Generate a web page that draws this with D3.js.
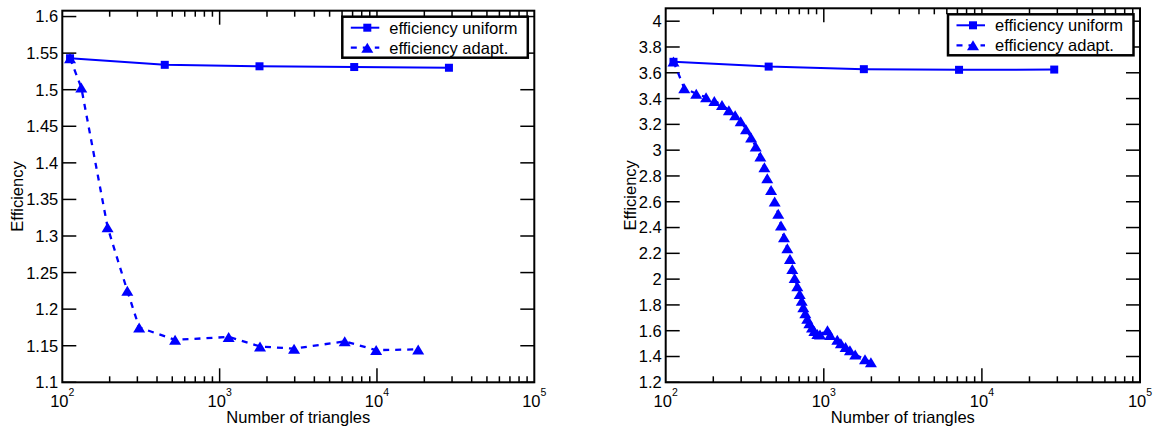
<!DOCTYPE html>
<html><head><meta charset="utf-8">
<script src="https://cdn.jsdelivr.net/npm/d3@7"></script>
<style>
body{margin:0;background:#fff}
svg{display:block}
text{font-family:"Liberation Sans",Arial,Helvetica,sans-serif;fill:#000}
</style>
</head><body>
<svg id="c" width="1156" height="427"></svg>
<script>
// ---------- data ----------
const nUniform = [112, 448, 1792, 7168, 28672];
const effUniformA = [1.543, 1.534, 1.532, 1.531, 1.530];
const nAdaptA = [112, 132, 194, 259, 308, 521, 1141, 1806, 2972, 6237, 9882, 18281];
const effAdaptA = [1.543, 1.503, 1.312, 1.225, 1.175, 1.158, 1.162, 1.149, 1.146, 1.156, 1.144, 1.145];

const effUniformB = [3.685, 3.648, 3.628, 3.623, 3.625];
const nAdaptB = [112,131,156,180,203,227,251,275,298,322,347,371,397,421,439,464,489,515,536,560,588,611,632,654,680,704,725,742,764,786,810,842,871,910,946,1055,1097,1217,1282,1373,1463,1580,1822,1986];
const effAdaptB = [3.687,3.481,3.437,3.411,3.382,3.351,3.310,3.271,3.225,3.163,3.098,3.028,2.950,2.868,2.783,2.692,2.601,2.506,2.415,2.325,2.240,2.157,2.079,2.009,1.945,1.885,1.833,1.782,1.735,1.693,1.658,1.624,1.598,1.575,1.570,1.603,1.567,1.530,1.503,1.474,1.448,1.415,1.378,1.355];

const yTicksA = [1.1, 1.15, 1.2, 1.25, 1.3, 1.35, 1.4, 1.45, 1.5, 1.55, 1.6];
const yTickLabelsA = ["1.1","1.15","1.2","1.25","1.3","1.35","1.4","1.45","1.5","1.55","1.6"];
const yTicksB = [1.2,1.4,1.6,1.8,2,2.2,2.4,2.6,2.8,3,3.2,3.4,3.6,3.8,4];
const yTickLabelsB = ["1.2","1.4","1.6","1.8","2","2.2","2.4","2.6","2.8","3","3.2","3.4","3.6","3.8","4"];
const xMajorTicks = [100, 1000, 10000, 100000];
const xTickExponents = ["2","3","4","5"];
const legendLabels = ["efficiency uniform", "efficiency adapt."];
const xTitle = "Number of triangles";
const yTitle = "Efficiency";

// ---------- drawing ----------
const svg = d3.select("#c");
const FS = 16.5;
const BLUE = "#0000ff";
const TRI_W = 12, TRI_H = 10, SQ = 8;

function triPath(s, h) {
  return `M0,${-h/2}L${s/2},${h/2}L${-s/2},${h/2}Z`;
}

function panel(cfg) {
  const x = d3.scaleLog().domain([100, 100000]).range([cfg.x0, cfg.x1]);
  const y = d3.scaleLinear().domain(cfg.yDomain).range([cfg.y1, cfg.y0]);
  const g = svg.append("g");

  // x ticks (minor + major), top and bottom, inward
  x.ticks().forEach(v => {
    const lg = Math.log10(v);
    const major = Math.abs(lg - Math.round(lg)) < 1e-9;
    if (v <= 100 || v >= 100000) return;
    const len = major ? 14 : 6;
    const px = x(v);
    g.append("line").attr("x1", px).attr("x2", px).attr("y1", cfg.y1).attr("y2", cfg.y1 - len)
      .attr("stroke", "#000").attr("stroke-width", 1.5);
    g.append("line").attr("x1", px).attr("x2", px).attr("y1", cfg.y0).attr("y2", cfg.y0 + len)
      .attr("stroke", "#000").attr("stroke-width", 1.5);
  });
  // y ticks left and right, inward
  cfg.yTicks.forEach((v, i) => {
    const py = y(v);
    g.append("line").attr("x1", cfg.x0).attr("x2", cfg.x0 + 14).attr("y1", py).attr("y2", py)
      .attr("stroke", "#000").attr("stroke-width", 1.5);
    g.append("line").attr("x1", cfg.x1).attr("x2", cfg.x1 - 14).attr("y1", py).attr("y2", py)
      .attr("stroke", "#000").attr("stroke-width", 1.5);
    g.append("text").attr("x", cfg.x0 - 4).attr("y", py).attr("dy", "0.36em")
      .attr("text-anchor", "end").attr("font-size", FS).text(cfg.yLabels[i]);
  });
  // x tick labels 10^k
  xMajorTicks.forEach((v, i) => {
    const t = g.append("text").attr("x", x(v)).attr("y", 406.5)
      .attr("text-anchor", "middle").attr("font-size", FS);
    t.append("tspan").text("10");
    t.append("tspan").attr("font-size", 10.5).attr("dy", -10.5).text(xTickExponents[i]);
  });
  // frame
  g.append("rect").attr("x", cfg.x0).attr("y", cfg.y0)
    .attr("width", cfg.x1 - cfg.x0).attr("height", cfg.y1 - cfg.y0)
    .attr("fill", "none").attr("stroke", "#000").attr("stroke-width", 2);

  // axis titles
  g.append("text").attr("x", (cfg.x0 + cfg.x1) / 2).attr("y", 423)
    .attr("text-anchor", "middle").attr("font-size", FS).text(xTitle);
  g.append("text").attr("transform", `translate(${cfg.yTitleX},${(cfg.y0 + cfg.y1) / 2}) rotate(-90)`)
    .attr("text-anchor", "middle").attr("dy", "0.35em").attr("font-size", FS).text(yTitle);

  // series
  const line = d3.line().x(d => x(d[0])).y(d => y(d[1]));
  const uni = nUniform.map((n, i) => [n, cfg.uni[i]]);
  const ada = cfg.nAd.map((n, i) => [n, cfg.ad[i]]);
  g.append("path").datum(ada).attr("d", line).attr("fill", "none")
    .attr("stroke", BLUE).attr("stroke-width", 2.3).attr("stroke-dasharray", "6,6");
  g.append("path").datum(uni).attr("d", line).attr("fill", "none")
    .attr("stroke", BLUE).attr("stroke-width", 2);
  g.selectAll(null).data(ada).enter().append("path")
    .attr("d", triPath(TRI_W, TRI_H))
    .attr("transform", d => `translate(${x(d[0])},${y(d[1])})`)
    .attr("fill", BLUE);
  g.selectAll(null).data(uni).enter().append("rect")
    .attr("x", d => x(d[0]) - SQ / 2).attr("y", d => y(d[1]) - SQ / 2)
    .attr("width", SQ).attr("height", SQ).attr("fill", BLUE);

  // legend
  const lx = cfg.x1 - 192, ly = cfg.y0 + 6;
  g.append("rect").attr("x", lx).attr("y", ly).attr("width", 185.5).attr("height", 41)
    .attr("fill", "#fff").attr("stroke", "#000").attr("stroke-width", 2.5);
  const rows = [cfg.y0 + 17, cfg.y0 + 37];
  g.append("line").attr("x1", lx + 8.5).attr("x2", lx + 37).attr("y1", rows[0]).attr("y2", rows[0])
    .attr("stroke", BLUE).attr("stroke-width", 2);
  g.append("rect").attr("x", lx + 25 - SQ / 2).attr("y", rows[0] - SQ / 2).attr("width", SQ).attr("height", SQ).attr("fill", BLUE);
  g.append("text").attr("x", lx + 47).attr("y", rows[0]).attr("dy", "0.36em").attr("font-size", FS).text(legendLabels[0]);
  g.append("line").attr("x1", lx + 8.5).attr("x2", lx + 37).attr("y1", rows[1]).attr("y2", rows[1])
    .attr("stroke", BLUE).attr("stroke-width", 2.3).attr("stroke-dasharray", "6,6");
  g.append("path").attr("d", triPath(TRI_W, TRI_H)).attr("transform", `translate(${lx + 25},${rows[1]})`).attr("fill", BLUE);
  g.append("text").attr("x", lx + 47).attr("y", rows[1]).attr("dy", "0.36em").attr("font-size", FS).text(legendLabels[1]);
}

panel({x0: 62.3, x1: 534.3, y0: 10.7, y1: 382.3, yDomain: [1.1, 1.608],
  yTicks: yTicksA, yLabels: yTickLabelsA, yTitleX: 17.7,
  uni: effUniformA, nAd: nAdaptA, ad: effAdaptA});
panel({x0: 665.7, x1: 1140, y0: 8.3, y1: 382.3, yDomain: [1.2, 4.1],
  yTicks: yTicksB, yLabels: yTickLabelsB, yTitleX: 630,
  uni: effUniformB, nAd: nAdaptB, ad: effAdaptB});
</script>
</body></html>
